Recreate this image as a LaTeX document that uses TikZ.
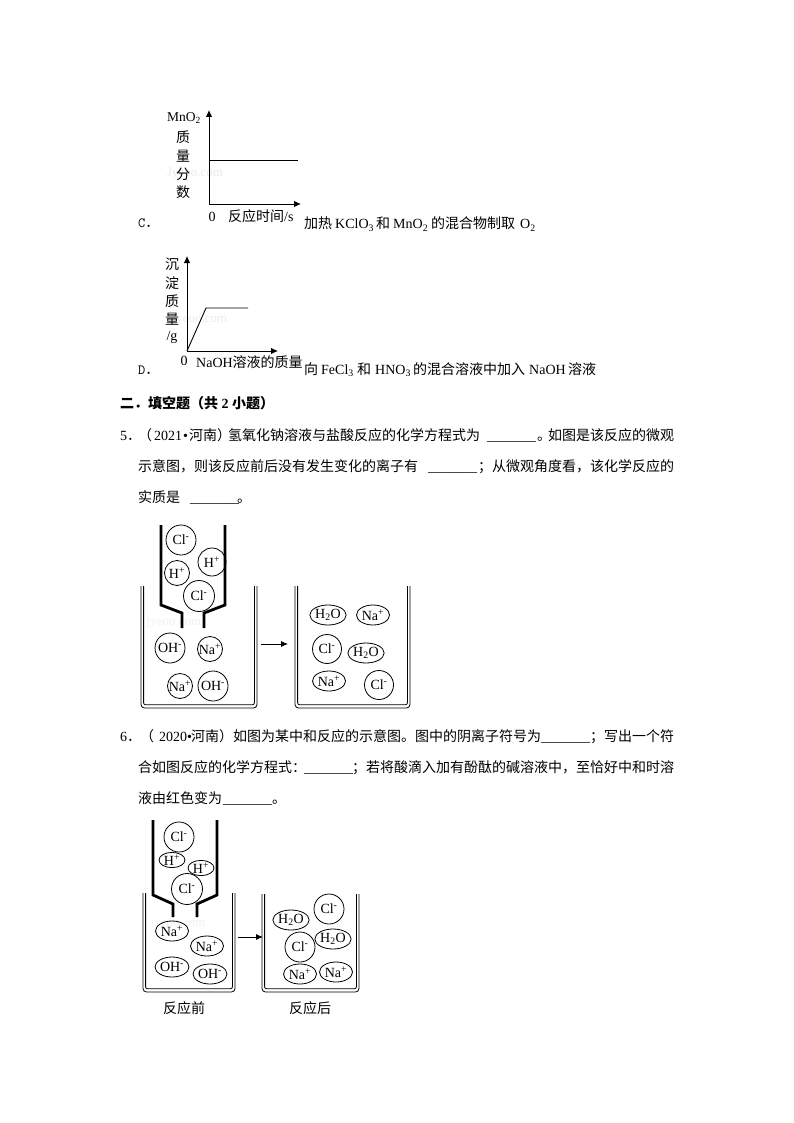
\documentclass[tikz,border=0pt]{standalone}
\usepackage{fontspec}
\setmainfont{Liberation Serif}
\newfontfamily\cjk{Noto Sans CJK SC}
\usetikzlibrary{arrows.meta,shapes.geometric}
\newcommand{\zh}[1]{{\cjk #1}}
\newcommand{\blank}{\_\_\_\_\_\_\_}
\newcommand{\seg}[4]{\node[txt] (#1) at (#2,#3) {#4};}
\newcommand{\lab}[4]{\node[ctr] (#1) at (#2,#3) {#4};}
\newcommand{\ionc}[5]{\node[ionr,minimum size=#4pt] (#1) at (#2,#3) {#5};}
\newcommand{\ione}[6]{\node[ionl,minimum width=#4pt,minimum height=#5pt] (#1) at (#2,#3) {#6};}
\newcommand{\beaker}[4]{%
  \draw[wall,rounded corners=3.5pt] (#1,#3) -- (#1,#4) -- (#2,#4) -- (#2,#3);
  \draw[wall,rounded corners=2pt] ({#1+2.6},#3) -- ({#1+2.6},{#4-3.2}) -- ({#2-2.6},{#4-3.2}) -- ({#2-2.6},#3);}
\newcommand{\Cl}{Cl\textsuperscript{-}}
\newcommand{\Hp}{H\textsuperscript{+}}
\newcommand{\Na}{Na\textsuperscript{+}}
\newcommand{\OH}{OH\textsuperscript{-}}
\newcommand{\water}{H\textsubscript{2}O}
\tikzset{
  txt/.style={anchor=base west,inner sep=0pt,font=\fontsize{14pt}{14pt}\selectfont},
  ctr/.style={anchor=center,inner sep=0pt,font=\fontsize{14pt}{14pt}\selectfont},
  mark wm/.style={anchor=center,inner sep=0pt,text=black!8,font=\fontsize{13pt}{13pt}\selectfont},
  ionr/.style={draw,circle,inner sep=0pt,line width=0.8pt,font=\fontsize{14pt}{14pt}\selectfont},
  ionl/.style={draw,ellipse,inner sep=0pt,line width=0.8pt,font=\fontsize{14pt}{14pt}\selectfont},
  wall/.style={line width=0.8pt},
  tube/.style={line width=2.8pt,line join=miter},
  axis/.style={line width=0.9pt,-{Latex[length=7pt,width=6.5pt]}},
  curve/.style={line width=0.9pt},
  flow/.style={line width=0.8pt,-{Latex[length=7pt,width=6pt]}}
}
\begin{document}
\begin{tikzpicture}[x=1pt,y=-1pt]
\useasboundingbox (0,0) rectangle (794,1123);
\fill[white] (0,0) rectangle (794,1123);
% watermarks
\node[mark wm] (w1) at (195,174) {Jyeoo.com};
\node[mark wm] (w2) at (200,320) {jyeoo.com};
\node[mark wm,text=black!5] (w3) at (174,623) {jyeoo.com};
\node[mark wm,text=black!5] (w4) at (178,924) {jyeoo.com};
% chart C
\coordinate (co) at (209,204);
\coordinate (cy) at (209,110);
\coordinate (cx) at (301,204);
\coordinate (ca) at (209,160);
\coordinate (cb) at (298,160);
\draw[axis] (co) -- (cy);
\draw[axis] (co) -- (cx);
\draw[curve] (ca) -- (cb);
\lab{c1}{184}{118}{\fontsize{13.5pt}{13.5pt}\selectfont MnO\textsubscript{2}}
\lab{c2}{183}{137}{\zh{质}}
\lab{c3}{183}{156}{\zh{量}}
\lab{c4}{183}{174}{\zh{分}}
\lab{c5}{183}{192}{\zh{数}}
\lab{c6}{212}{217}{0}
\seg{c7}{228}{222}{\zh{反应时间}/s}
\seg{c8}{138}{228}{\ttfamily C\zh{．}}
\seg{c9a}{304}{229}{\zh{加热}}
\seg{c9b}{335}{229}{KClO\textsubscript{3}}
\seg{c9c}{376}{229}{\zh{和}}
\seg{c9d}{393}{229}{MnO\textsubscript{2}}
\seg{c9e}{431}{229}{\zh{的混合物制取}}
\seg{c9f}{520}{229}{O\textsubscript{2}}
% chart D
\coordinate (do) at (187,351);
\coordinate (dy) at (187,256);
\coordinate (dx) at (278,351);
\coordinate (da) at (206,308);
\coordinate (db) at (248,308);
\draw[axis] (do) -- (dy);
\draw[axis] (do) -- (dx);
\draw[curve] (do) -- (da) -- (db);
\lab{d1}{172}{264}{\zh{沉}}
\lab{d2}{172}{283}{\zh{淀}}
\lab{d3}{172}{301}{\zh{质}}
\lab{d4}{172}{319}{\zh{量}}
\lab{d5}{172}{337}{/g}
\lab{d6}{184}{361}{0}
\seg{d7}{196}{367}{NaOH\zh{溶液的质量}}
\seg{d8}{138}{374}{\ttfamily D\zh{．}}
\seg{d9a}{304}{374}{\zh{向}}
\seg{d9b}{321}{374}{FeCl\textsubscript{3}}
\seg{d9c}{357}{374}{\zh{和}}
\seg{d9d}{375}{374}{HNO\textsubscript{3}}
\seg{d9e}{413}{374}{\zh{的混合溶液中加入}}
\seg{d9f}{529}{374}{NaOH}
\seg{d9g}{568}{374}{\zh{溶液}}
% heading
\seg{h1}{120}{408}{\bfseries\zh{二．填空题（共} 2 \zh{小题）}}
% question 5
\seg{q1}{120}{440}{5\zh{．}}
\seg{q1b}{138}{440}{\zh{（}}
\seg{q2}{154}{440}{2021}
\seg{q2a}{183}{440}{•}
\seg{q2b}{189}{440}{\zh{河南）}}
\seg{q2c}{228}{440}{\zh{氢氧化钠溶液与盐酸反应的化学方程式为}}
\seg{q3}{487}{440}{\blank}
\seg{q4}{537}{440}{\zh{。}}
\seg{q4b}{548}{440}{\zh{如图是该反应的微观}}
\seg{q5}{138}{471}{\zh{示意图，则该反应前后没有发生变化的离子有}}
\seg{q6}{428}{471}{\blank}
\seg{q7}{478}{471}{\zh{；从微观角度看，该化学反应的}}
\seg{q8}{138}{502}{\zh{实质是}}
\seg{q9}{190}{502}{\blank}
\seg{q10}{237}{502}{\zh{。}}
% question 6
\seg{r1}{120}{741}{6\zh{．}}
\seg{r1b}{140}{741}{\zh{（}}
\seg{r2}{159}{741}{2020}
\seg{r2a}{187}{741}{•}
\seg{r2b}{191}{741}{\zh{河南）}}
\seg{r3}{233}{741}{\zh{如图为某中和反应的示意图。图中的阴离子符号为}}
\seg{r4}{541}{741}{\blank}
\seg{r5}{590}{741}{\zh{；写出一个符}}
\seg{r6}{138}{772}{\zh{合如图反应的化学方程式：}}
\seg{r7}{304}{772}{\blank}
\seg{r8}{352}{772}{\zh{；若将酸滴入加有酚酞的碱溶液中，至恰好中和时溶}}
\seg{r9}{138}{803}{\zh{液由红色变为}}
\seg{r10}{223}{803}{\blank}
\seg{r11}{272}{803}{\zh{。}}
% figure 5
\beaker{141}{257}{586}{708}
\beaker{295}{410}{586}{708}
\draw[tube] (161,525) -- (161,605) -- (182,613) -- (182,628);
\draw[tube] (225,525) -- (225,605) -- (204,613) -- (204,628);
\coordinate (f1) at (261,644);
\coordinate (f2) at (288,644);
\draw[flow] (f1) -- (f2);
\ionc{a1}{181}{540}{30}{\Cl}
\ionc{a2}{212}{562}{28}{\Hp}
\ionc{a3}{177}{573}{25}{\Hp}
\ionc{a4}{199}{596}{31}{\Cl}
\ionc{a5}{170}{648}{30}{\OH}
\ionc{a6}{210}{649}{25}{\Na}
\ionc{a7}{180}{686}{25}{\Na}
\ionc{a8}{213}{686}{30}{\OH}
\ione{b1}{328}{615}{33}{20}{\water}
\ione{b2}{373}{615}{33}{20}{\Na}
\ionc{b3}{327}{649}{29}{\Cl}
\ione{b4}{366}{653}{33}{20}{\water}
\ione{b5}{329}{681}{33}{20}{\Na}
\ionc{b6}{379}{685}{29}{\Cl}
% figure 6
\beaker{143}{235}{893}{992}
\beaker{262}{359}{894}{992}
\draw[tube] (153,820) -- (153,895) -- (173,904) -- (173,917);
\draw[tube] (217,820) -- (217,895) -- (197,904) -- (197,917);
\coordinate (g1) at (238,937);
\coordinate (g2) at (263,937);
\draw[flow] (g1) -- (g2);
\ionc{e1}{179}{837}{30}{\Cl}
\ione{e2}{172}{860}{26}{14}{\Hp}
\ione{e3}{201}{868}{26}{14}{\Hp}
\ionc{e4}{187}{889}{31}{\Cl}
\ione{e5}{172}{931}{33}{20}{\Na}
\ione{e6}{207}{946}{33}{20}{\Na}
\ione{e7}{172}{967}{33}{20}{\OH}
\ione{e8}{210}{974}{33}{20}{\OH}
\ione{k1}{291}{920}{33}{20}{\water}
\ionc{k2}{329}{909}{30}{\Cl}
\ionc{k3}{300}{947}{30}{\Cl}
\ione{k4}{333}{939}{33}{20}{\water}
\ione{k5}{300}{974}{33}{20}{\Na}
\ione{k6}{336}{972}{33}{20}{\Na}
\lab{l1}{184}{1008}{\zh{反应前}}
\lab{l2}{310}{1008}{\zh{反应后}}
\end{tikzpicture}
\end{document}
